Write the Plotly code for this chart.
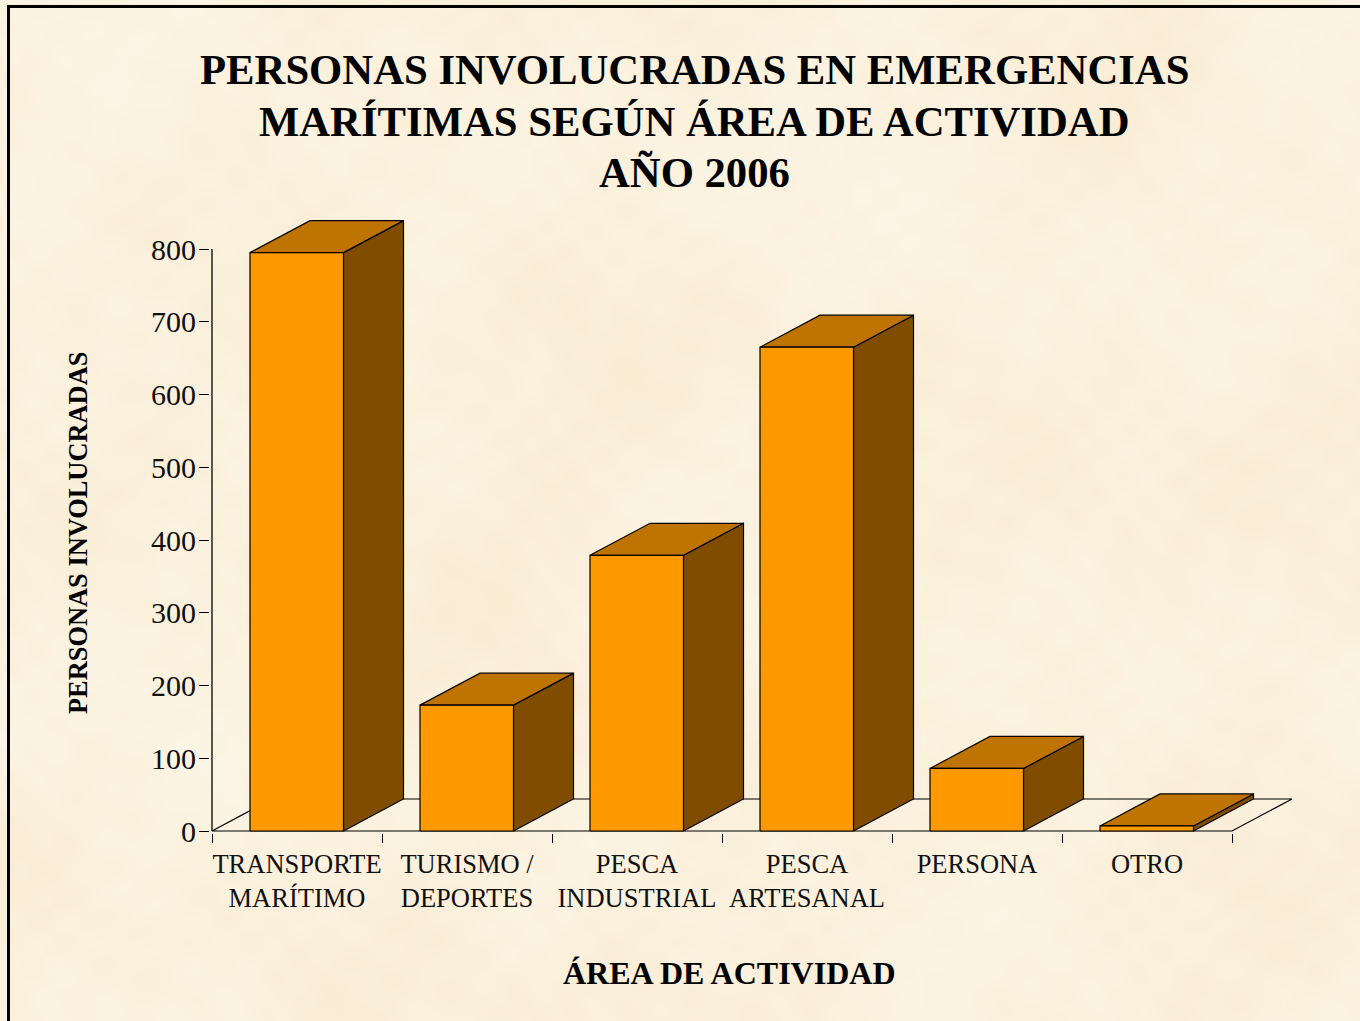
import base64, struct, zlib
import numpy as np
import plotly.graph_objects as go

# ---- data ----
categories = ["TRANSPORTE<br>MARÍTIMO", "TURISMO /<br>DEPORTES", "PESCA<br>INDUSTRIAL",
              "PESCA<br>ARTESANAL", "PERSONA", "OTRO"]
values = [795, 173, 379, 665, 86, 7]
y_ticks = [0, 100, 200, 300, 400, 500, 600, 700, 800]
title_lines = ["PERSONAS INVOLUCRADAS EN EMERGENCIAS",
               "MARÍTIMAS SEGÚN ÁREA DE ACTIVIDAD", "AÑO 2006"]

# ---- geometry / style ----
W, H = 1360, 1021
# plot box is 2px wider than the chart's own origin so the axis lines are not clipped
PAD = 2
L, R, T, B = 212 - PAD, 1300, 210, 831 + PAD
PX_CAT = 170.0
PX_UNIT = (831 - 249) / 800
DX = 60 / PX_CAT
DY = 32 / PX_UNIT
BAR_L, BAR_R = 0.2235, 0.7735
FONT = "Liberation Serif"
FRONT, SIDE, TOP = "#FF9900", "#7F4C00", "#BF7300"


def texture():
    # soft parchment mottling from a few fixed waves (background only, not data)
    h, w = 510, 680
    yy, xx = np.mgrid[0:h, 0:w].astype(float)
    xx, yy = xx / 2, yy / 2
    n = (np.sin(xx * .061 + yy * .023) + np.sin(xx * .019 - yy * .071 + 1.3)
         + np.sin(xx * .113 + yy * .097 + 2.1) * .7 + np.sin(xx * .147 - yy * .131 + .4) * .6
         + np.sin((xx + np.sin(yy * .05) * 18) * .037) * .8 + np.sin((yy + np.sin(xx * .04) * 20) * .043) * .8
         + np.sin(xx * .41 + yy * .33 + np.sin(yy * .11) * 3) * .5 + np.sin(xx * .37 - yy * .47 + np.sin(xx * .09) * 3) * .5)
    n = n / 5.0
    rgb = np.stack([251 + n * 2, 241 + n * 5, 221 + n * 10], -1).clip(0, 255).astype(np.uint8)
    raw = b"".join(b"\x00" + rgb[i].tobytes() for i in range(h))

    def chunk(tag, d):
        return struct.pack(">I", len(d)) + tag + d + struct.pack(">I", zlib.crc32(tag + d))
    png = (b"\x89PNG\r\n\x1a\n" + chunk(b"IHDR", struct.pack(">IIBBBBB", w, h, 8, 2, 0, 0, 0))
           + chunk(b"IDAT", zlib.compress(raw)) + chunk(b"IEND", b""))
    return "data:image/png;base64," + base64.b64encode(png).decode()


def px(x):
    return (x - L) / (R - L)


def py(y):
    return (B - y) / (B - T)


def poly(xs, ys, color=None, width=1.2):
    return go.Scatter(x=xs, y=ys, mode="lines", fill="toself" if color else None,
                      fillcolor=color, line=dict(color="#000000", width=width),
                      hoverinfo="skip", showlegend=False, cliponaxis=False)


fig = go.Figure()
n = len(categories)
# floor
fig.add_trace(poly([0, DX, n + DX, n, 0], [0, DY, DY, 0, 0]))
# y axis line
fig.add_trace(poly([0, 0], [0, y_ticks[-1]], width=1.3))
# bars
for i, v in enumerate(values):
    a, b = i + BAR_L, i + BAR_R
    fig.add_trace(poly([b, b + DX, b + DX, b, b], [0, DY, v + DY, v, 0], SIDE))
    fig.add_trace(poly([a, b, b + DX, a + DX, a], [v, v, v + DY, v + DY, v], TOP))
    fig.add_trace(poly([a, b, b, a, a], [0, 0, v, v, 0], FRONT))

ann = []
for line, yc, in zip(title_lines, [70, 121, 172]):
    ann.append(dict(text=f"<b>{line}</b>", x=px(694), y=py(yc), xref="paper", yref="paper",
                    showarrow=False, xanchor="center", yanchor="middle",
                    font=dict(family=FONT, size=42.7, color="#000000")))
ann.append(dict(text="<b>ÁREA DE ACTIVIDAD</b>", x=px(729), y=py(973), xref="paper", yref="paper",
                showarrow=False, xanchor="center", yanchor="middle",
                font=dict(family=FONT, size=32, color="#000000")))
ann.append(dict(text="<b>PERSONAS INVOLUCRADAS</b>", x=px(78), y=py(533), xref="paper", yref="paper",
                showarrow=False, textangle=-90, xanchor="center", yanchor="middle",
                font=dict(family=FONT, size=26.4, color="#000000")))

border = [
    dict(type="rect", xref="paper", yref="paper", x0=px(7), x1=px(W), y0=py(5), y1=py(8),
         fillcolor="#000000", line_width=0, layer="above"),
    dict(type="rect", xref="paper", yref="paper", x0=px(7), x1=px(10), y0=py(5), y1=py(H),
         fillcolor="#000000", line_width=0, layer="above"),
]

fig.update_layout(
    width=W, height=H, showlegend=False,
    margin=dict(l=L, r=W - R, t=T, b=H - B, pad=0),
    paper_bgcolor="#FBF1DC", plot_bgcolor="rgba(0,0,0,0)",
    font=dict(family=FONT, color="#111111"),
    annotations=ann, shapes=border,
    images=[dict(source=texture(), xref="paper", yref="paper", x=px(0), y=py(0),
                 sizex=W / (R - L), sizey=H / (B - T), sizing="stretch",
                 xanchor="left", yanchor="top", layer="below")],
    xaxis=dict(range=[-PAD / PX_CAT, (R - 212) / PX_CAT], showgrid=False, zeroline=False, showline=False,
               tickmode="array", tickvals=[i + .5 for i in range(n)], ticktext=categories,
               ticks="", tickangle=0, tickfont=dict(family=FONT, size=26.5, color="#111111"),
               ticklabelstandoff=12,
               minor=dict(tickmode="array", tickvals=list(range(n + 1)), ticks="outside",
                          ticklen=9, tickcolor="#000000", tickwidth=1, showgrid=False)),
    yaxis=dict(range=[-PAD / PX_UNIT, (831 - T) / PX_UNIT], showgrid=False, zeroline=False, showline=False,
               tickmode="array", tickvals=y_ticks, ticks="outside", ticklen=10,
               tickcolor="#000000", tickwidth=1, ticklabelstandoff=-3,
               tickfont=dict(family=FONT, size=30, color="#111111")),
)

fig.write_html("out.html", config={"displayModeBar": False},
               post_script="document.body.style.margin='0';document.body.style.overflow='hidden';")
